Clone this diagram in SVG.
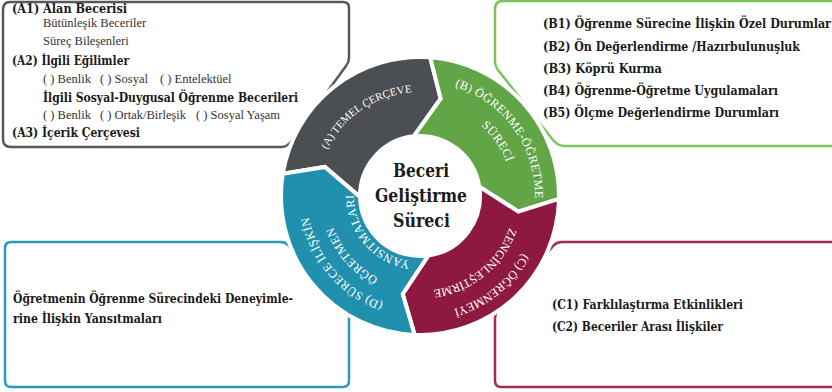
<svg xmlns="http://www.w3.org/2000/svg" xmlns:xlink="http://www.w3.org/1999/xlink" width="832" height="392" viewBox="0 0 832 392">
<style>
.box{fill:none;stroke-width:2.5;stroke-linejoin:round}
.b{font-family:'DejaVu Serif',serif;font-weight:bold;font-size:13px;fill:#1a1a1a}
.r{font-family:'Liberation Serif',serif;font-size:12.5px;fill:#333}
.seg{stroke:#fff;stroke-width:4;stroke-linejoin:miter}
.rt{font-family:'Liberation Serif',serif;font-size:12px;fill:#fff;letter-spacing:0.4px}
.ct{font-family:'DejaVu Serif',serif;font-weight:bold;font-size:19px;fill:#1a1a1a}
</style>
<defs>
<path id="pA" d="M -103.43,-10.87 A 104 104 0 0 1 28.67,-99.97"/>
<path id="pB1" d="M -11.02,-114.47 A 115 115 0 0 1 104.66,47.69"/>
<path id="pB2" d="M 39.30,-84.29 A 93 93 0 0 1 92.65,-8.11"/>
<path id="pC1" d="M 117.97,2.68 A 118 118 0 0 1 -23.12,115.71"/>
<path id="pC2" d="M 94.99,1.33 A 95 95 0 0 1 -17.80,93.32"/>
<path id="pD1" d="M 1.48,112.99 A 113 113 0 0 1 -111.53,-18.16"/>
<path id="pD2" d="M 1.93,91.98 A 92 92 0 0 1 -90.92,-14.08"/>
<path id="pD3" d="M 0,66 A 66 66 0 0 1 -65.00,-11.46"/>
</defs>
<rect width="832" height="392" fill="#fff"/>

<g id="boxA">
<path class="box" stroke="#56585b" d="M 10,2 H 343 Q 349,2 349,8 V 58 Q 349,62 346,66 L 292,140 Q 288,147 281,147 H 11 Q 3,147 3,139 V 10 Q 3,2 10,2 Z"/>
<text class="b" x="12" y="13" textLength="115" lengthAdjust="spacingAndGlyphs">(A1) Alan Becerisi</text>
<text class="r" x="43" y="27">Bütünleşik Beceriler</text>
<text class="r" x="43" y="45">Süreç Bileşenleri</text>
<text class="b" x="12" y="65" textLength="117" lengthAdjust="spacingAndGlyphs">(A2) İlgili Eğilimler</text>
<text class="r" y="83"><tspan x="43">( ) Benlik</tspan><tspan x="100">( ) Sosyal</tspan><tspan x="160">( ) Entelektüel</tspan></text>
<text class="b" x="43" y="102" textLength="255" lengthAdjust="spacingAndGlyphs">İlgili Sosyal-Duygusal Öğrenme Becerileri</text>
<text class="r" y="119"><tspan x="43">(  ) Benlik</tspan><tspan x="100">( ) Ortak/Birleşik</tspan><tspan x="196">( ) Sosyal Yaşam</tspan></text>
<text class="b" x="12" y="137" textLength="128" lengthAdjust="spacingAndGlyphs">(A3) İçerik Çerçevesi</text>
</g>

<g id="boxB">
<path class="box" stroke="#7cc35b" d="M 840,1 H 503 Q 495,1 495,9 V 62 Q 495,66 498,70 L 553,140 Q 558,146 565,146 H 840"/>
<text class="b" x="543" y="28" textLength="288" lengthAdjust="spacingAndGlyphs">(B1) Öğrenme Sürecine İlişkin Özel Durumlar</text>
<text class="b" x="543" y="51" textLength="257" lengthAdjust="spacingAndGlyphs">(B2) Ön Değerlendirme /Hazırbulunuşluk</text>
<text class="b" x="543" y="73" textLength="119" lengthAdjust="spacingAndGlyphs">(B3) Köprü Kurma</text>
<text class="b" x="543" y="95" textLength="235" lengthAdjust="spacingAndGlyphs">(B4) Öğrenme-Öğretme Uygulamaları</text>
<text class="b" x="543" y="117" textLength="236" lengthAdjust="spacingAndGlyphs">(B5) Ölçme Değerlendirme Durumları</text>
</g>

<g id="boxC">
<path class="box" stroke="#a32d55" d="M 840,242 H 562 Q 557,242 554,245 L 498,310 Q 495,314 495,319 V 381 Q 495,387 501,387 H 840"/>
<text class="b" x="552" y="309" textLength="191" lengthAdjust="spacingAndGlyphs">(C1) Farklılaştırma Etkinlikleri</text>
<text class="b" x="552" y="331" textLength="171" lengthAdjust="spacingAndGlyphs">(C2) Beceriler Arası İlişkiler</text>
</g>

<g id="boxD">
<path class="box" stroke="#2b9ab7" d="M 11,242 H 281 Q 285,242 288,245 L 346,306 Q 349,310 349,315 V 381 Q 349,387 343,387 H 11 Q 5,387 5,381 V 248 Q 5,242 11,242 Z"/>
<text class="b" x="13" y="303" textLength="280" lengthAdjust="spacingAndGlyphs">Öğretmenin Öğrenme Sürecindeki Deneyimle-</text>
<text class="b" x="13" y="323" textLength="149" lengthAdjust="spacingAndGlyphs">rine İlişkin Yansıtmaları</text>
</g>

<g id="connectors"></g>

<g transform="translate(420,196)">
<g id="segA">
<path class="seg" fill="#4b4e53" d="M -137.21,-22.22 A 139 139 0 0 1 10.18,-138.63 L 20.69,-97.33 L -6.27,-59.67 A 60 60 0 0 0 -59.99,1.05 L -95.15,-29.09 Z"/>
<text class="rt" style="font-size:11px;letter-spacing:0"><textPath xlink:href="#pA" startOffset="50%" text-anchor="middle">(A) TEMEL ÇERÇEVE</textPath></text>
</g>
<g id="segB">
<path class="seg" fill="#62a547" d="M 10.18,-138.63 A 139 139 0 0 1 138.97,2.91 L 98.28,15.56 L 59.26,-9.39 A 60 60 0 0 0 -6.27,-59.67 L 20.69,-97.33 Z"/>
<text class="rt"><textPath xlink:href="#pB1" startOffset="50%" text-anchor="middle">(B) ÖĞRENME-ÖĞRETME</textPath></text>
<text class="rt"><textPath xlink:href="#pB2" startOffset="50%" text-anchor="middle">SÜRECİ</textPath></text>
</g>
<g id="segC">
<path class="seg" fill="#8d1840" d="M 138.97,2.91 A 139 139 0 0 1 -5.34,138.90 L -17.28,97.99 L 8.35,59.42 A 60 60 0 0 0 59.26,-9.39 L 98.28,15.56 Z"/>
<text class="rt" style="letter-spacing:0"><textPath xlink:href="#pC1" startOffset="50%" text-anchor="middle">(C) ÖĞRENMEYİ</textPath></text>
<text class="rt" style="letter-spacing:0"><textPath xlink:href="#pC2" startOffset="50%" text-anchor="middle">ZENGİNLEŞTİRME</textPath></text>
</g>
<g id="segD">
<path class="seg" fill="#2190ae" d="M -5.34,138.90 A 139 139 0 0 1 -137.21,-22.22 L -95.15,-29.09 L -59.99,1.05 A 60 60 0 0 0 8.35,59.42 L -17.28,97.99 Z"/>
<text class="rt"><textPath xlink:href="#pD1" startOffset="50%" text-anchor="middle">(D) SÜRECE İLİŞKİN</textPath></text>
<text class="rt"><textPath xlink:href="#pD2" startOffset="50%" text-anchor="middle">ÖĞRETMEN</textPath></text>
<text class="rt"><textPath xlink:href="#pD3" startOffset="50%" text-anchor="middle">YANSITMALARI</textPath></text>
</g>
<g id="center">
<text class="ct" x="-27" y="-19" textLength="56" lengthAdjust="spacingAndGlyphs">Beceri</text>
<text class="ct" x="-45" y="6" textLength="92" lengthAdjust="spacingAndGlyphs">Geliştirme</text>
<text class="ct" x="-27" y="31" textLength="57" lengthAdjust="spacingAndGlyphs">Süreci</text>
</g>
</g>
</svg>
